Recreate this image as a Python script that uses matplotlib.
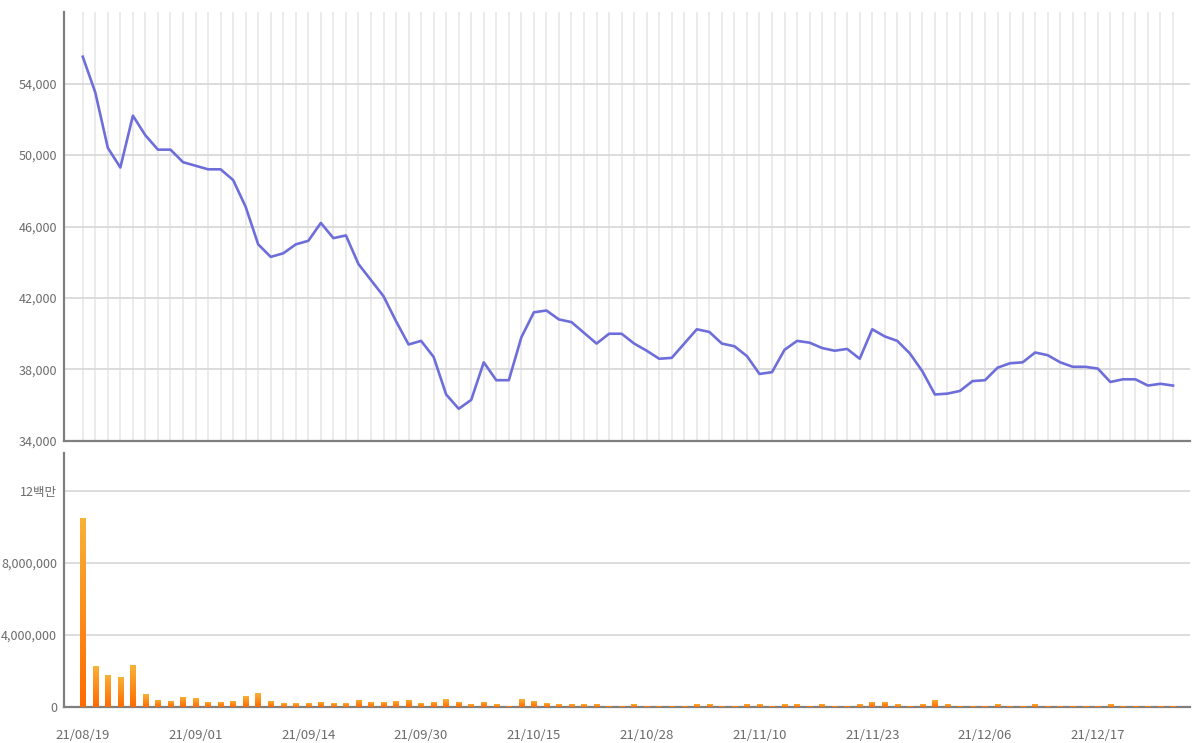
import numpy as np
import matplotlib
matplotlib.use("Agg")
import matplotlib.pyplot as plt
from matplotlib.colors import LinearSegmentedColormap

plt.rcParams['font.family'] = ['Noto Sans CJK KR', 'DejaVu Sans']

dates = ["21/08/19", "21/08/20", "21/08/23", "21/08/24", "21/08/25", "21/08/26", "21/08/27",
         "21/08/30", "21/08/31", "21/09/01", "21/09/02", "21/09/03", "21/09/06", "21/09/07",
         "21/09/08", "21/09/09", "21/09/10", "21/09/13", "21/09/14", "21/09/15", "21/09/16",
         "21/09/17", "21/09/23", "21/09/24", "21/09/27", "21/09/28", "21/09/29", "21/09/30",
         "21/10/01", "21/10/05", "21/10/06", "21/10/07", "21/10/08", "21/10/12", "21/10/13",
         "21/10/14", "21/10/15", "21/10/18", "21/10/19", "21/10/20", "21/10/21", "21/10/22",
         "21/10/25", "21/10/26", "21/10/27", "21/10/28", "21/10/29", "21/11/01", "21/11/02",
         "21/11/03", "21/11/04", "21/11/05", "21/11/08", "21/11/09", "21/11/10", "21/11/11",
         "21/11/12", "21/11/15", "21/11/16", "21/11/17", "21/11/18", "21/11/19", "21/11/22",
         "21/11/23", "21/11/24", "21/11/25", "21/11/26", "21/11/29", "21/11/30", "21/12/01",
         "21/12/02", "21/12/03", "21/12/06", "21/12/07", "21/12/08", "21/12/09", "21/12/10",
         "21/12/13", "21/12/14", "21/12/15", "21/12/16", "21/12/17", "21/12/20", "21/12/21",
         "21/12/22", "21/12/23", "21/12/24", "21/12/27"]

prices = [55500, 53500, 50400, 49300, 52200, 51100, 50300, 50300, 49600, 49400,
          49200, 49200, 48600, 47100, 45000, 44300, 44500, 45000, 45200, 46200,
          45350, 45500, 43900, 43000, 42100, 40700, 39400, 39600, 38700, 36600,
          35800, 36300, 38400, 37400, 37400, 39800, 41200, 41300, 40800, 40650,
          40050, 39450, 40000, 40000, 39450, 39050, 38600, 38650, 39450, 40250,
          40100, 39450, 39300, 38750, 37750, 37850, 39100, 39600, 39500, 39200,
          39050, 39150, 38600, 40250, 39850, 39600, 38900, 37900, 36600, 36650,
          36800, 37350, 37400, 38100, 38350, 38400, 38950, 38800, 38400, 38150,
          38150, 38050, 37300, 37450, 37450, 37100, 37200, 37100]

volumes = [10500000, 2260000, 1800000, 1650000, 2330000, 700000, 410000, 350000, 560000, 480000,
           280000, 280000, 350000, 610000, 760000, 350000, 200000, 200000, 200000, 280000,
           200000, 200000, 410000, 280000, 280000, 350000, 410000, 200000, 280000, 430000,
           280000, 150000, 280000, 150000, 80000, 430000, 350000, 200000, 150000, 150000,
           150000, 150000, 80000, 80000, 150000, 80000, 80000, 80000, 80000, 150000,
           150000, 80000, 80000, 150000, 150000, 80000, 150000, 150000, 80000, 150000,
           80000, 80000, 150000, 280000, 280000, 150000, 80000, 150000, 410000, 150000,
           80000, 80000, 80000, 150000, 80000, 80000, 150000, 80000, 80000, 80000,
           80000, 80000, 150000, 80000, 80000, 80000, 80000, 80000]

price_ticks = [34000, 38000, 42000, 46000, 50000, 54000]
price_tick_labels = ["34,000", "38,000", "42,000", "46,000", "50,000", "54,000"]
vol_ticks = [0, 4000000, 8000000, 12000000]
vol_tick_labels = ["0", "4,000,000", "8,000,000", "12백만"]
date_tick_idx = [0, 9, 18, 27, 36, 45, 54, 63, 72, 81]

x = np.arange(len(prices))
label_color = '#6b6b6b'
spine_color = '#7f7f7f'

fig = plt.figure(figsize=(12, 7.43), dpi=100)
ax1 = fig.add_axes([0.0533, 0.4065, 0.9384, 0.5773])
ax2 = fig.add_axes([0.0533, 0.0485, 0.9384, 0.3418])

xlim = (-1.5, len(prices) - 1 + 1.36)

# ---- price panel ----
ax1.plot(x, prices, color='#6e6edb', lw=1.9, zorder=3, solid_joinstyle='round')
ax1.set_xlim(*xlim)
ax1.set_ylim(34000, 58000)
ax1.set_xticks(x)
ax1.set_xticklabels([])
ax1.set_yticks(price_ticks)
ax1.set_yticklabels(price_tick_labels)
ax1.xaxis.grid(True, color='#e8e8e8', lw=1.2)
ax1.yaxis.grid(True, color='#d9d9d9', lw=1.3)
ax1.set_axisbelow(True)

# ---- volume panel ----
bars = ax2.bar(x, volumes, width=0.44, color='none', edgecolor='none')
cmap = LinearSegmentedColormap.from_list('volgrad', ['#ff6a00', '#f8b238'])
grad = np.linspace(0, 1, 256).reshape(-1, 1)
for b in bars:
    x0, w, h = b.get_x(), b.get_width(), b.get_height()
    im = ax2.imshow(grad, extent=[x0, x0 + w, 0, h], origin='lower', aspect='auto',
                    cmap=cmap, zorder=3, interpolation='bilinear')
    im.set_clip_path(b)
ax2.set_xlim(*xlim)
ax2.set_ylim(0, 14100000)
ax2.set_yticks(vol_ticks)
ax2.set_yticklabels(vol_tick_labels)
ax2.set_xticks(date_tick_idx)
ax2.set_xticklabels([dates[i] for i in date_tick_idx])
ax2.yaxis.grid(True, color='#d9d9d9', lw=1.3)
ax2.set_axisbelow(True)

for ax in (ax1, ax2):
    ax.spines['top'].set_visible(False)
    ax.spines['right'].set_visible(False)
    for s in ('left', 'bottom'):
        ax.spines[s].set_color(spine_color)
        ax.spines[s].set_linewidth(1.6)
    ax.tick_params(axis='both', length=0, labelcolor=label_color, labelsize=9)
    ax.tick_params(axis='y', pad=5)
    ax.tick_params(axis='x', pad=16, labelsize=9.5)

fig.savefig('out.png', dpi=100, facecolor='white')
